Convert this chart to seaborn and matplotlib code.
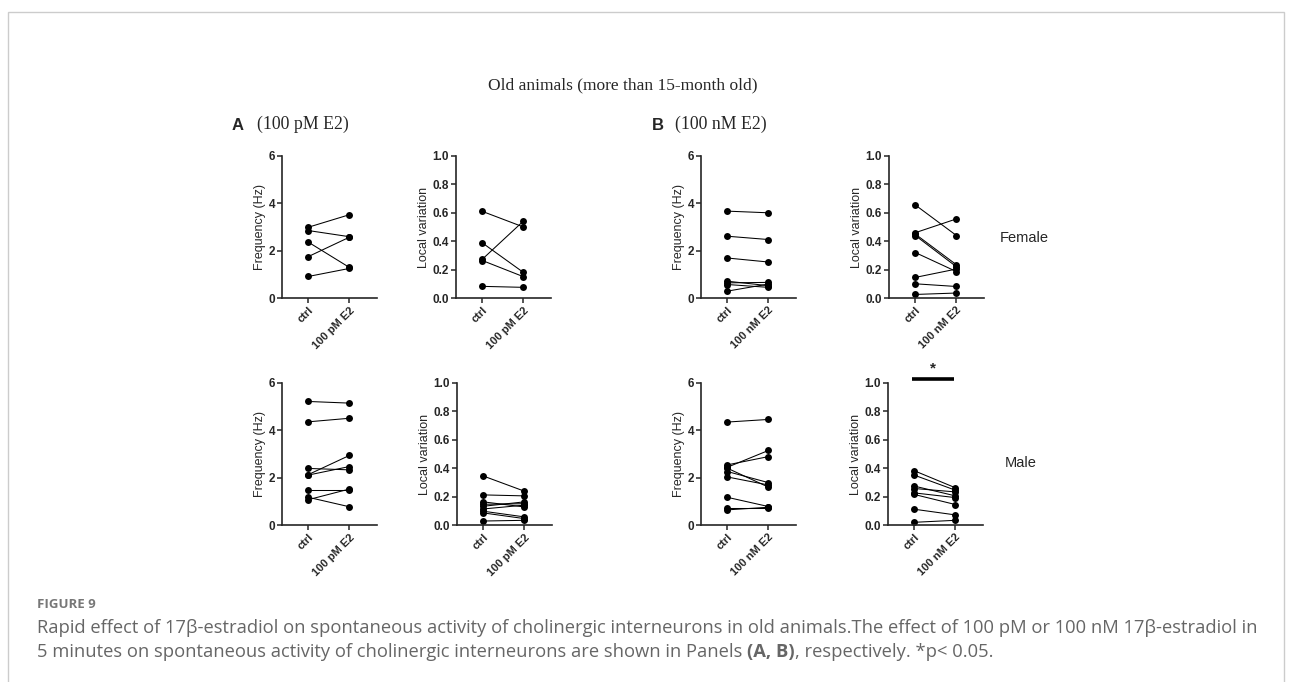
import numpy as np
import pandas as pd
import matplotlib
matplotlib.use('Agg')
import matplotlib.pyplot as plt
from matplotlib.patches import Rectangle
import seaborn as sns

W, H = 1293, 682

sns.set_style('ticks')
plt.rcParams['font.family'] = ['Liberation Sans', 'DejaVu Sans']

# x categories
cond_pm = ['ctrl', '100 pM E2']
cond_nm = ['ctrl', '100 nM E2']

# Panel A (100 pM), female
a_fem_freq_ctrl = [2.99, 2.85, 2.36, 1.75, 0.91]
a_fem_freq_e2 = [3.52, 2.59, 1.29, 2.57, 1.25]
a_fem_lv_ctrl = [0.61, 0.388, 0.273, 0.264, 0.082]
a_fem_lv_e2 = [0.50, 0.18, 0.542, 0.15, 0.075]

# Panel A (100 pM), male
a_male_freq_ctrl = [5.22, 4.36, 2.39, 2.13, 2.11, 1.48, 1.17, 1.07]
a_male_freq_e2 = [5.15, 4.51, 2.33, 2.94, 2.47, 1.48, 0.77, 1.52]
a_male_lv_ctrl = [0.345, 0.212, 0.163, 0.146, 0.132, 0.113, 0.097, 0.085, 0.028]
a_male_lv_e2 = [0.238, 0.205, 0.127, 0.150, 0.163, 0.140, 0.057, 0.045, 0.033]

# Panel B (100 nM), female
b_fem_freq_ctrl = [3.67, 2.61, 1.69, 0.71, 0.64, 0.57, 0.29]
b_fem_freq_e2 = [3.60, 2.47, 1.52, 0.52, 0.66, 0.45, 0.59]
b_fem_lv_ctrl = [0.655, 0.46, 0.45, 0.44, 0.32, 0.145, 0.10, 0.025]
b_fem_lv_e2 = [0.44, 0.557, 0.234, 0.22, 0.186, 0.204, 0.081, 0.035]

# Panel B (100 nM), male
b_male_freq_ctrl = [4.35, 2.54, 2.44, 2.40, 2.26, 2.03, 1.17, 0.71, 0.64]
b_male_freq_e2 = [4.46, 2.89, 3.15, 1.60, 1.79, 1.69, 0.78, 0.71, 0.75]
b_male_lv_ctrl = [0.382, 0.351, 0.274, 0.257, 0.226, 0.215, 0.111, 0.019]
b_male_lv_e2 = [0.262, 0.245, 0.205, 0.233, 0.193, 0.144, 0.071, 0.033]

freq_ticks = [0, 2, 4, 6]
lv_ticks = [0.0, 0.2, 0.4, 0.6, 0.8, 1.0]


def draw_panel(left, bottom, ctrl, e2, conds, ylabel, ticks, fmt):
    ax = fig.add_axes([left / W, 1 - bottom / H, 95 / W, 142 / H])
    n = len(ctrl)
    df = pd.DataFrame({
        'cell': list(range(n)) * 2,
        'x': [0] * n + [1] * n,
        'val': list(ctrl) + list(e2),
    })
    sns.lineplot(data=df, x='x', y='val', units='cell', estimator=None,
                 color='black', lw=0.75, marker='o', markersize=5,
                 markeredgewidth=0, legend=False, ax=ax)
    ax.set_xlim(-0.64, 1.67)
    ax.set_ylim(ticks[0], ticks[-1])
    ax.set_yticks(ticks)
    ax.set_yticklabels([fmt.format(t) for t in ticks], fontweight='bold', fontsize=8.5)
    ax.set_xticks([0, 1])
    ax.set_xticklabels(conds, rotation=45, ha='right', rotation_mode='anchor',
                       fontweight='bold', fontsize=8)
    ax.set_xlabel('')
    ax.set_ylabel(ylabel, fontsize=9, labelpad=2)
    sns.despine(ax=ax)
    for s in ['left', 'bottom']:
        ax.spines[s].set_linewidth(1.2)
    ax.tick_params(width=1.1, length=3.5, pad=1.5)
    ax.patch.set_alpha(0)
    return ax


fig = plt.figure(figsize=(W / 100, H / 100), dpi=100)

draw_panel(282, 298, a_fem_freq_ctrl, a_fem_freq_e2, cond_pm, 'Frequency (Hz)', freq_ticks, '{:.0f}')
draw_panel(456, 298, a_fem_lv_ctrl, a_fem_lv_e2, cond_pm, 'Local variation', lv_ticks, '{:.1f}')
draw_panel(701, 298, b_fem_freq_ctrl, b_fem_freq_e2, cond_nm, 'Frequency (Hz)', freq_ticks, '{:.0f}')
draw_panel(889, 298, b_fem_lv_ctrl, b_fem_lv_e2, cond_nm, 'Local variation', lv_ticks, '{:.1f}')

draw_panel(282, 525, a_male_freq_ctrl, a_male_freq_e2, cond_pm, 'Frequency (Hz)', freq_ticks, '{:.0f}')
draw_panel(457, 525, a_male_lv_ctrl, a_male_lv_e2, cond_pm, 'Local variation', lv_ticks, '{:.1f}')
draw_panel(701, 525, b_male_freq_ctrl, b_male_freq_e2, cond_nm, 'Frequency (Hz)', freq_ticks, '{:.0f}')
ax_sig = draw_panel(888, 525, b_male_lv_ctrl, b_male_lv_e2, cond_nm, 'Local variation', lv_ticks, '{:.1f}')

# significance bar
ax_sig.plot([-0.06, 0.97], [1.028, 1.028], color='black', lw=2.6, clip_on=False,
            solid_capstyle='butt')
ax_sig.text(0.455, 1.05, '*', ha='center', va='bottom', fontsize=11, fontweight='bold')


def fx(px):
    return px / W


def fy(py):
    return 1 - py / H


# headings
fig.text(fx(623), fy(85), 'Old animals (more than 15-month old)', ha='center', va='center',
         fontsize=12.5, family='Liberation Serif')
fig.text(fx(232), fy(126), 'A', ha='left', va='center', fontsize=12, fontweight='bold')
fig.text(fx(257), fy(124), '(100 pM E2)', ha='left', va='center', fontsize=12.8,
         family='Liberation Serif')
fig.text(fx(652), fy(126), 'B', ha='left', va='center', fontsize=12, fontweight='bold')
fig.text(fx(675), fy(124), '(100 nM E2)', ha='left', va='center', fontsize=12.8,
         family='Liberation Serif')
fig.text(fx(1000), fy(238), 'Female', ha='left', va='center', fontsize=10.5)
fig.text(fx(1005), fy(463), 'Male', ha='left', va='center', fontsize=10.5)

# caption
cap_font = ['Open Sans', 'DejaVu Sans']
cap_color = '#666666'
cap_size = 13.2
fig.text(fx(37), fy(604), 'FIGURE 9', ha='left', va='center', fontsize=9.5,
         fontweight='bold', color='#777777', family=cap_font)
fig.text(fx(37), fy(628),
         'Rapid effect of 17\u03b2-estradiol on spontaneous activity of cholinergic interneurons in old animals.'
         'The effect of 100 pM or 100 nM 17\u03b2-estradiol in',
         ha='left', va='center', fontsize=cap_size, color=cap_color, family=cap_font)

renderer = fig.canvas.get_renderer()
pieces = [('5 minutes on spontaneous activity of cholinergic interneurons are shown in Panels ', 'normal'),
          ('(A, B)', 'bold'),
          (', respectively. *p< 0.05.', 'normal')]
xpos = 37
for txt, wt in pieces:
    t = fig.text(fx(xpos), fy(652), txt, ha='left', va='center', fontsize=cap_size,
                 color=cap_color, family=cap_font, fontweight=wt)
    bb = t.get_window_extent(renderer=renderer)
    xpos = bb.x1

# frame
fig.patches.append(Rectangle((fx(8), -0.05), fx(1284 - 8), fy(12) + 0.05,
                             transform=fig.transFigure, fill=False,
                             edgecolor='#cccccc', lw=1))

fig.savefig('out.png', dpi=100)
